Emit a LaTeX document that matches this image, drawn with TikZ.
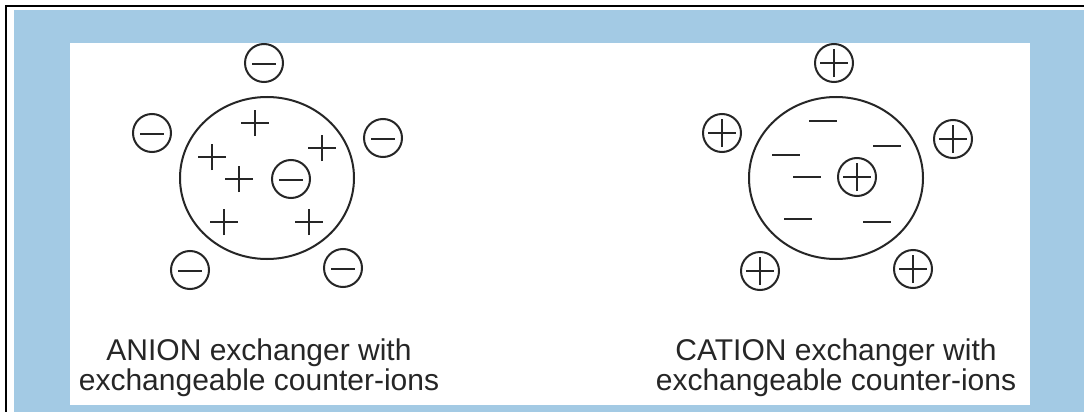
\documentclass[tikz,border=0pt]{standalone}
\usepackage{fontspec}
\setmainfont{Liberation Sans}
\usetikzlibrary{shapes.geometric}
\definecolor{panelblue}{RGB}{163,202,228}
\tikzset{
  ink/.style={line width=2pt, black!85},
  bead/.style={ellipse, draw, ink, minimum width=174pt, minimum height=162pt, inner sep=0pt},
  ionring/.style={circle, draw, ink, minimum size=38pt, inner sep=0pt},
  negion/.style={ionring, path picture={
      \draw[ink] ([xshift=-12pt,yshift=-1pt]path picture bounding box.center)
        -- ([xshift=12pt,yshift=-1pt]path picture bounding box.center);}},
  posion/.style={ionring, path picture={
      \draw[ink] ([xshift=-14pt]path picture bounding box.center)
        -- ([xshift=14pt]path picture bounding box.center);
      \draw[ink] ([yshift=-14pt]path picture bounding box.center)
        -- ([yshift=14pt]path picture bounding box.center);}},
  fixedplus/.style={minimum size=28pt, inner sep=0pt, path picture={
      \draw[ink] ([xshift=-14pt]path picture bounding box.center)
        -- ([xshift=14pt]path picture bounding box.center);
      \draw[ink] ([yshift=-13pt]path picture bounding box.center)
        -- ([yshift=13pt]path picture bounding box.center);}},
  fixedminus/.style={minimum size=28pt, inner sep=0pt, path picture={
      \draw[ink] ([xshift=-14pt]path picture bounding box.center)
        -- ([xshift=14pt]path picture bounding box.center);}},
  caption/.style={align=center, inner sep=0pt, text=black!85,
      font=\fontsize{30}{30}\selectfont}
}
\begin{document}
\begin{tikzpicture}[x=1pt,y=-1pt]
  \useasboundingbox (0,0) rectangle (1084,412);
  % frame and panel
  \fill[white] (0,0) rectangle (1084,412);
  \fill[panelblue] (14,10) rectangle (1084,412);
  \fill[white] (70,43) rectangle (1030,405);
  \draw[line width=2pt] (6,412) -- (6,6.5) -- (1084,6.5);

  % anion exchanger: positive fixed charges, negative counter-ions
  \node[bead] (anion) at (267,178) {};
  \node[fixedplus] (ap1) at (255,123) {};
  \node[fixedplus] (ap2) at (212,157) {};
  \node[fixedplus] (ap3) at (239,179) {};
  \node[fixedplus] (ap4) at (322,148) {};
  \node[fixedplus] (ap5) at (224,222) {};
  \node[fixedplus] (ap6) at (309,222) {};
  \node[negion] (ai0) at (291,179) {};
  \node[negion] (ai1) at (264,63) {};
  \node[negion] (ai2) at (152,133) {};
  \node[negion] (ai3) at (383,138) {};
  \node[negion] (ai4) at (190,270) {};
  \node[negion] (ai5) at (343,268) {};
  \node[caption] (alabel) at (259,367.5)
    {ANION exchanger with\\exchangeable counter-ions};

  % cation exchanger: negative fixed charges, positive counter-ions
  \node[bead] (cation) at (836,178) {};
  \node[fixedminus] (cm1) at (823,121) {};
  \node[fixedminus] (cm2) at (786,155) {};
  \node[fixedminus] (cm3) at (807,177) {};
  \node[fixedminus] (cm4) at (887,146) {};
  \node[fixedminus] (cm5) at (798,219) {};
  \node[fixedminus] (cm6) at (877,222) {};
  \node[posion] (ci0) at (857,177) {};
  \node[posion] (ci1) at (834,63) {};
  \node[posion] (ci2) at (722,133) {};
  \node[posion] (ci3) at (953,139) {};
  \node[posion] (ci4) at (760,271) {};
  \node[posion] (ci5) at (913,269) {};
  \node[caption] (clabel) at (836,367.5)
    {CATION exchanger with\\exchangeable counter-ions};
\end{tikzpicture}
\end{document}
